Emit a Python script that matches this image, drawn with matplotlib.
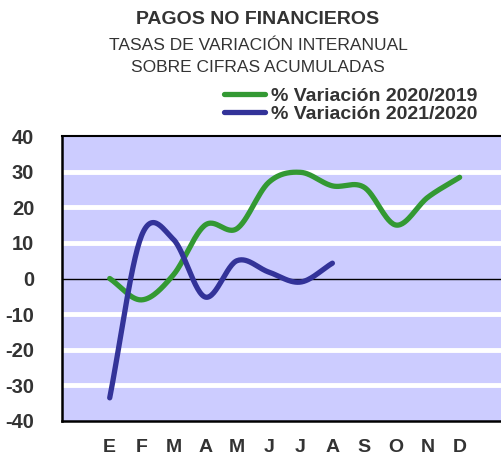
import numpy as np
import matplotlib
matplotlib.use("Agg")
import matplotlib.pyplot as plt
from matplotlib.lines import Line2D

# --- data ---
months = ["E", "F", "M", "A", "M", "J", "J", "A", "S", "O", "N", "D"]
var_2020_2019 = [0, -6, 1, 15, 14, 27, 29.8, 26, 25.6, 15, 22.8, 28.4]
var_2021_2020 = [-33.5, 12, 11, -5.2, 5, 1.8, -1, 4.3]
yticks = [-40, -30, -20, -10, 0, 10, 20, 30, 40]

GREEN = "#339933"
BLUE = "#333399"
TXT = "#333333"
FONT = "Liberation Sans"


def smooth(y, n=30):
    # catmull-rom style smoothing (like spreadsheet smoothed lines)
    y = np.asarray(y, float)
    x = np.arange(len(y), dtype=float)
    px = np.concatenate([[2 * x[0] - x[1]], x, [2 * x[-1] - x[-2]]])
    py = np.concatenate([[2 * y[0] - y[1]], y, [2 * y[-1] - y[-2]]])
    xs, ys = [], []
    for i in range(1, len(px) - 2):
        t = np.linspace(0, 1, n, endpoint=False)
        for arr, out in ((px, xs), (py, ys)):
            p0, p1, p2, p3 = arr[i - 1], arr[i], arr[i + 1], arr[i + 2]
            out.append(0.5 * ((2 * p1) + (-p0 + p2) * t
                              + (2 * p0 - 5 * p1 + 4 * p2 - p3) * t ** 2
                              + (-p0 + 3 * p1 - 3 * p2 + p3) * t ** 3))
    xs.append([x[-1]])
    ys.append([y[-1]])
    return np.concatenate(xs), np.concatenate(ys)


fig = plt.figure(figsize=(5.01, 4.57), dpi=100)
ax = fig.add_axes([62 / 501, 1 - 421 / 457, 1 - 62 / 501, (421 - 136) / 457])
ax.set_facecolor("#CCCCFF")

for v in yticks:
    if v == 0:
        ax.axhline(0, color="black", lw=1.0, zorder=2)
    elif abs(v) < 40:
        ax.axhline(v, color="white", lw=3.5, zorder=1)

xg, yg = smooth(var_2020_2019)
xb, yb = smooth(var_2021_2020)
ax.plot(xg, yg, color=GREEN, lw=3.8, solid_capstyle="round", zorder=3)
ax.plot(xb, yb, color=BLUE, lw=3.8, solid_capstyle="round", zorder=4)

ax.set_xlim(-1.5, 12.3)
ax.set_ylim(-40, 40)
ax.set_yticks(yticks)
ax.set_yticklabels([str(v) for v in yticks], fontsize=14.5, fontweight="bold",
                   color=TXT, family=FONT)
ax.set_xticks(range(len(months)))
ax.set_xticklabels(months, fontsize=14, fontweight="bold", color=TXT, family=FONT)
ax.tick_params(axis="both", length=0)
ax.tick_params(axis="y", pad=20)
ax.tick_params(axis="x", pad=13)

ax.spines["right"].set_visible(False)
ax.spines["left"].set_linewidth(1.8)
ax.spines["bottom"].set_linewidth(1.8)
ax.spines["top"].set_linewidth(1.5)

fig.text(258 / 501, 1 - 20 / 457, "PAGOS NO FINANCIEROS", ha="center", va="center",
         fontsize=14, fontweight="bold", color=TXT, family=FONT)
fig.text(258 / 501, 1 - 45 / 457, "TASAS DE VARIACIÓN INTERANUAL", ha="center",
         va="center", fontsize=12.5, color=TXT, family=FONT)
fig.text(258 / 501, 1 - 68 / 457, "SOBRE CIFRAS ACUMULADAS", ha="center",
         va="center", fontsize=12.5, color=TXT, family=FONT)

handles = [Line2D([], [], color=GREEN, lw=3.8, solid_capstyle="round"),
           Line2D([], [], color=BLUE, lw=3.8, solid_capstyle="round")]
fig.legend(handles, ["% Variación 2020/2019", "% Variación 2021/2020"],
           loc="center right", bbox_to_anchor=(487 / 501, 1 - 105 / 457),
           frameon=False, handlelength=2.1, handletextpad=0.3, labelspacing=0.0,
           borderpad=0, prop={"family": FONT, "weight": "bold", "size": 14},
           labelcolor=TXT)

fig.savefig("out.png", dpi=100)
